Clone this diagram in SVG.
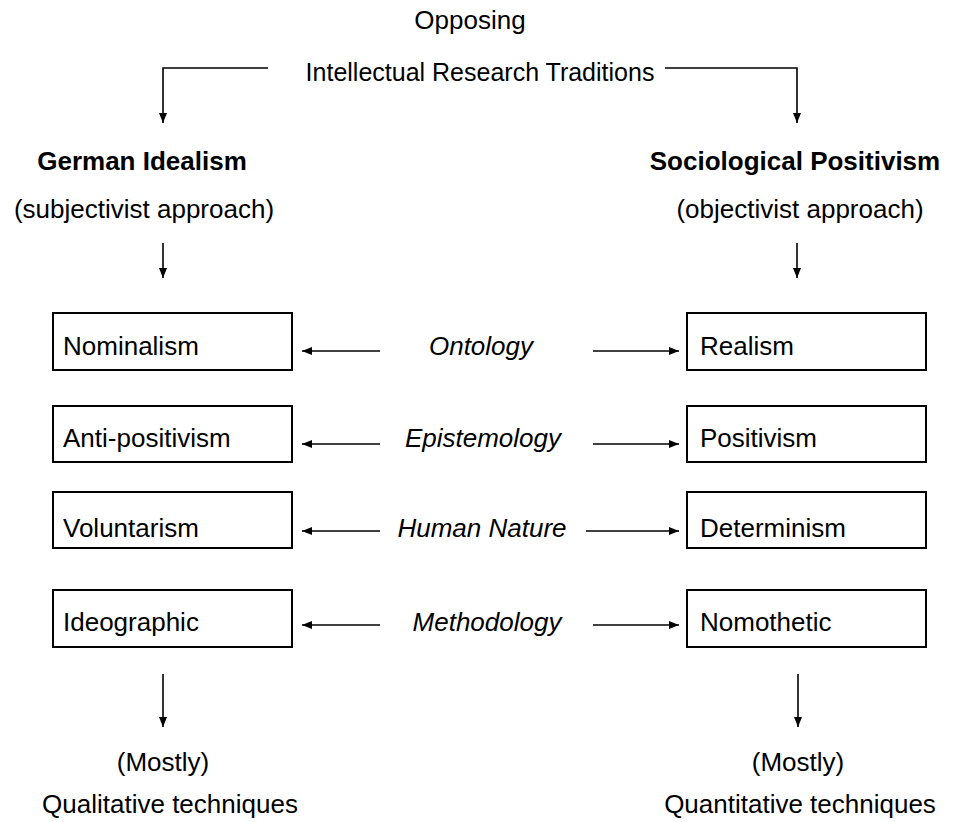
<svg xmlns="http://www.w3.org/2000/svg" width="954" height="822" viewBox="0 0 954 822">
<style>
  text { font-family: "Liberation Sans", Arial, sans-serif; font-size: 26px; fill: #000; }
  .b { font-weight: bold; }
  .i { font-style: italic; }
  .m { text-anchor: middle; }
  .t { font-size: 25px; }
  .box { fill: #fff; stroke: #000; stroke-width: 2; }
  .ln { fill: none; stroke: #000; stroke-width: 1.6; }
</style>
<defs>
  <marker id="ah" viewBox="0 0 10 8" refX="10" refY="4" markerWidth="10" markerHeight="8" markerUnits="userSpaceOnUse" orient="auto">
    <path d="M0,0 L10,4 L0,8 Z" fill="#000"/>
  </marker>
</defs>
<rect width="954" height="822" fill="#fff"/>

<g id="title">
  <text class="m" x="470" y="29">Opposing</text>
  <text class="m t" x="480" y="81">Intellectual Research Traditions</text>
</g>
<g id="german-idealism">
  <text class="b m" x="142" y="170">German Idealism</text>
  <text class="m" x="144" y="218">(subjectivist approach)</text>
</g>
<g id="sociological-positivism">
  <text class="b m" x="795" y="170">Sociological Positivism</text>
  <text class="m" x="800" y="218">(objectivist approach)</text>
</g>

<g id="nominalism"><rect class="box" x="53" y="313" width="239" height="57"/><text x="63" y="355">Nominalism</text></g>
<g id="anti-positivism"><rect class="box" x="53" y="406" width="239" height="56"/><text x="63" y="447">Anti-positivism</text></g>
<g id="voluntarism"><rect class="box" x="53" y="492" width="239" height="56"/><text x="63" y="537">Voluntarism</text></g>
<g id="ideographic"><rect class="box" x="53" y="590" width="239" height="57"/><text x="63" y="631">Ideographic</text></g>

<g id="realism"><rect class="box" x="687" y="313" width="239" height="57"/><text x="700" y="355">Realism</text></g>
<g id="positivism"><rect class="box" x="687" y="406" width="239" height="56"/><text x="700" y="447">Positivism</text></g>
<g id="determinism"><rect class="box" x="687" y="492" width="239" height="56"/><text x="700" y="537">Determinism</text></g>
<g id="nomothetic"><rect class="box" x="687" y="590" width="239" height="57"/><text x="700" y="631">Nomothetic</text></g>

<g id="ontology"><text class="i m" x="481" y="355">Ontology</text></g>
<g id="epistemology"><text class="i m" x="483" y="447">Epistemology</text></g>
<g id="human-nature"><text class="i m" x="482" y="537">Human Nature</text></g>
<g id="methodology"><text class="i m" x="487" y="631">Methodology</text></g>

<g id="qualitative">
  <text class="m" x="163" y="771">(Mostly)</text>
  <text class="m" x="170" y="813">Qualitative techniques</text>
</g>
<g id="quantitative">
  <text class="m" x="798" y="771">(Mostly)</text>
  <text class="m" x="800" y="813">Quantitative techniques</text>
</g>

<g id="connectors">
  <path class="ln" d="M268,68 H163 V123" marker-end="url(#ah)"/>
  <path class="ln" d="M665,68 H797 V123" marker-end="url(#ah)"/>
  <path class="ln" d="M163,243 V278" marker-end="url(#ah)"/>
  <path class="ln" d="M797,243 V278" marker-end="url(#ah)"/>
  <path class="ln" d="M380,351 H302" marker-end="url(#ah)"/>
  <path class="ln" d="M593,351 H679" marker-end="url(#ah)"/>
  <path class="ln" d="M380,444 H302" marker-end="url(#ah)"/>
  <path class="ln" d="M593,444 H679" marker-end="url(#ah)"/>
  <path class="ln" d="M380,531 H302" marker-end="url(#ah)"/>
  <path class="ln" d="M586,531 H679" marker-end="url(#ah)"/>
  <path class="ln" d="M380,625 H302" marker-end="url(#ah)"/>
  <path class="ln" d="M593,625 H679" marker-end="url(#ah)"/>
  <path class="ln" d="M163,674 V727" marker-end="url(#ah)"/>
  <path class="ln" d="M798,674 V727" marker-end="url(#ah)"/>
</g>
</svg>
